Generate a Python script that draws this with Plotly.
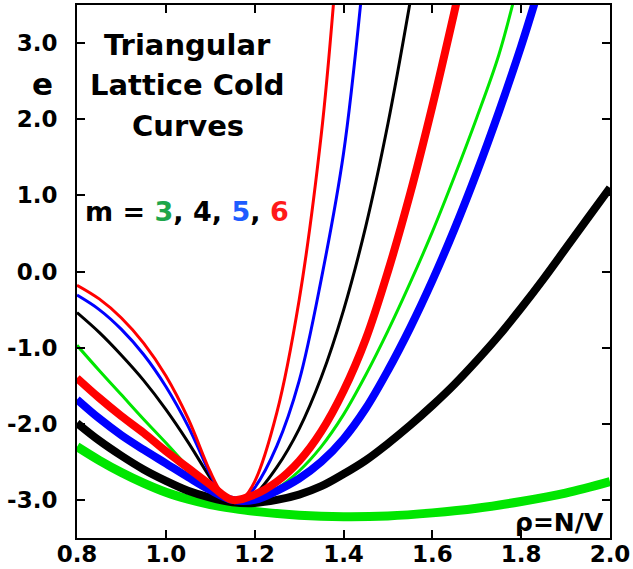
import plotly.graph_objects as go

# ---- data ----
thin_red_x = [0.80, 0.85, 0.90, 0.95, 1.00, 1.05, 1.10, 1.125, 1.15, 1.175, 1.20, 1.25, 1.30, 1.35, 1.38]
thin_red_y = [-0.18, -0.36, -0.61, -0.94, -1.37, -1.93, -2.63, -2.90, -3.02, -2.97, -2.76, -1.85, -0.38, 1.80, 3.70]

thin_blue_x = [0.80, 0.85, 0.90, 0.95, 1.00, 1.05, 1.10, 1.125, 1.15, 1.175, 1.20, 1.25, 1.30, 1.35, 1.40, 1.44]
thin_blue_y = [-0.31, -0.50, -0.76, -1.09, -1.51, -2.03, -2.66, -2.92, -3.03, -2.99, -2.84, -2.29, -1.44, -0.10, 1.55, 3.60]

thin_black_x = [0.80, 0.85, 0.90, 0.95, 1.00, 1.05, 1.10, 1.125, 1.15, 1.175, 1.20, 1.25, 1.30, 1.35, 1.40, 1.45, 1.50, 1.55]
thin_black_y = [-0.54, -0.80, -1.10, -1.43, -1.81, -2.24, -2.71, -2.92, -3.03, -3.00, -2.93, -2.57, -2.07, -1.39, -0.51, 0.59, 1.94, 3.54]

thin_green_x = [0.80, 0.85, 0.90, 0.95, 1.00, 1.05, 1.10, 1.15, 1.20, 1.25, 1.30, 1.35, 1.40, 1.45, 1.50, 1.55, 1.60, 1.65, 1.70, 1.75, 1.79]
thin_green_y = [-0.97, -1.30, -1.62, -1.94, -2.25, -2.57, -2.88, -3.03, -2.98, -2.85, -2.62, -2.30, -1.88, -1.36, -0.78, -0.15, 0.52, 1.25, 2.02, 2.85, 3.72]

thick_red_x = [0.80, 0.85, 0.90, 0.95, 1.00, 1.05, 1.10, 1.15, 1.20, 1.25, 1.30, 1.35, 1.40, 1.45, 1.50, 1.55, 1.60, 1.65, 1.66]
thick_red_y = [-1.40, -1.66, -1.90, -2.12, -2.36, -2.58, -2.80, -3.00, -2.93, -2.76, -2.49, -2.10, -1.57, -0.89, 0.00, 1.02, 2.17, 3.42, 3.68]

thick_blue_x = [0.80, 0.85, 0.90, 0.95, 1.00, 1.05, 1.10, 1.15, 1.20, 1.25, 1.30, 1.35, 1.40, 1.45, 1.50, 1.55, 1.60, 1.65, 1.70, 1.75, 1.80, 1.83]
thick_blue_y = [-1.68, -1.93, -2.15, -2.34, -2.52, -2.70, -2.87, -3.00, -3.00, -2.88, -2.72, -2.50, -2.20, -1.80, -1.30, -0.74, -0.12, 0.56, 1.30, 2.10, 2.96, 3.52]

thick_black_x = [0.80, 0.85, 0.90, 0.95, 1.00, 1.05, 1.10, 1.15, 1.20, 1.25, 1.30, 1.35, 1.40, 1.45, 1.50, 1.55, 1.60, 1.65, 1.70, 1.75, 1.80, 1.85, 1.90, 1.95, 2.00]
thick_black_y = [-1.99, -2.22, -2.42, -2.60, -2.75, -2.88, -2.97, -3.03, -3.04, -3.00, -2.93, -2.82, -2.66, -2.48, -2.26, -2.02, -1.76, -1.48, -1.17, -0.84, -0.48, -0.10, 0.30, 0.70, 1.10]

thick_green_x = [0.80, 0.85, 0.90, 0.95, 1.00, 1.05, 1.10, 1.15, 1.20, 1.30, 1.40, 1.50, 1.60, 1.70, 1.80, 1.90, 2.00]
thick_green_y = [-2.30, -2.48, -2.64, -2.78, -2.90, -2.99, -3.06, -3.11, -3.15, -3.20, -3.22, -3.21, -3.17, -3.11, -3.02, -2.91, -2.76]

x_ticks = [0.8, 1.0, 1.2, 1.4, 1.6, 1.8, 2.0]
y_ticks = [-3.0, -2.0, -1.0, 0.0, 1.0, 2.0, 3.0]

GREEN = "#00e600"
BLUE = "#0000ff"
RED = "#ff0000"
BLACK = "#000000"

series = [
    (thick_green_x, thick_green_y, GREEN, 9),
    (thin_green_x, thin_green_y, GREEN, 3),
    (thin_black_x, thin_black_y, BLACK, 3),
    (thin_blue_x, thin_blue_y, BLUE, 3),
    (thin_red_x, thin_red_y, RED, 3),
    (thick_black_x, thick_black_y, BLACK, 8),
    (thick_blue_x, thick_blue_y, BLUE, 8),
    (thick_red_x, thick_red_y, RED, 8),
]

fig = go.Figure()
for xs, ys, col, w in series:
    fig.add_trace(go.Scatter(x=xs, y=ys, mode="lines",
                             line=dict(color=col, width=w, shape="spline", smoothing=1.0),
                             showlegend=False, hoverinfo="skip"))

FONT = "DejaVu Sans, Verdana, sans-serif"
axis_common = dict(showline=True, linecolor="black", linewidth=2, mirror="ticks",
                   ticks="inside", ticklen=8, tickwidth=2, tickcolor="black",
                   showgrid=False, zeroline=False, automargin=False)

fig.update_xaxes(range=[0.8, 2.0], tickvals=x_ticks, ticktext=[f"{v:.1f}" for v in x_ticks],
                 ticklabelstandoff=-6,
                 tickfont=dict(family=FONT, size=23, color="black", weight="bold"),
                 **axis_common)
fig.update_yaxes(range=[-3.5, 3.5], tickvals=y_ticks, ticktext=[f"{v:.1f}" for v in y_ticks],
                 ticklabelstandoff=13,
                 tickfont=dict(family=FONT, size=23, color="black", weight="bold"),
                 **axis_common)

ann_font = dict(family=FONT, size=29, color="black", weight="bold")
annotations = [
    dict(text="Triangular", x=0.208, y=0.925),
    dict(text="Lattice Cold", x=0.208, y=0.850),
    dict(text="Curves", x=0.208, y=0.773),
]
for a in annotations:
    fig.add_annotation(xref="paper", yref="paper", showarrow=False,
                       xanchor="center", yanchor="middle", font=ann_font, **a)

fig.add_annotation(xref="paper", yref="paper", x=0.206, y=0.612, showarrow=False,
                   xanchor="center", yanchor="middle",
                   font=dict(family=FONT, size=27, color="black", weight="bold"),
                   text="m = <span style='color:#1ea64a'>3</span>, 4, "
                        "<span style='color:#1e5cff'>5</span>, "
                        "<span style='color:#ff1a1a'>6</span>")
fig.add_annotation(xref="paper", yref="paper", x=-0.064, y=0.852, showarrow=False,
                   xanchor="center", yanchor="middle",
                   font=dict(family=FONT, size=31, color="black", weight="bold"), text="e")
fig.add_annotation(xref="paper", yref="paper", x=0.993, y=0.030, showarrow=False,
                   xanchor="right", yanchor="middle",
                   font=dict(family=FONT, size=25, color="black", weight="bold"), text="ρ=N/V")

fig.update_layout(width=633, height=569, margin=dict(l=77, r=23, t=5, b=31, autoexpand=False),
                  paper_bgcolor="white", plot_bgcolor="white")

fig.write_html("out.html", config={"displayModeBar": False},
               post_script="document.body.style.margin='0';document.body.style.overflow='hidden';")
